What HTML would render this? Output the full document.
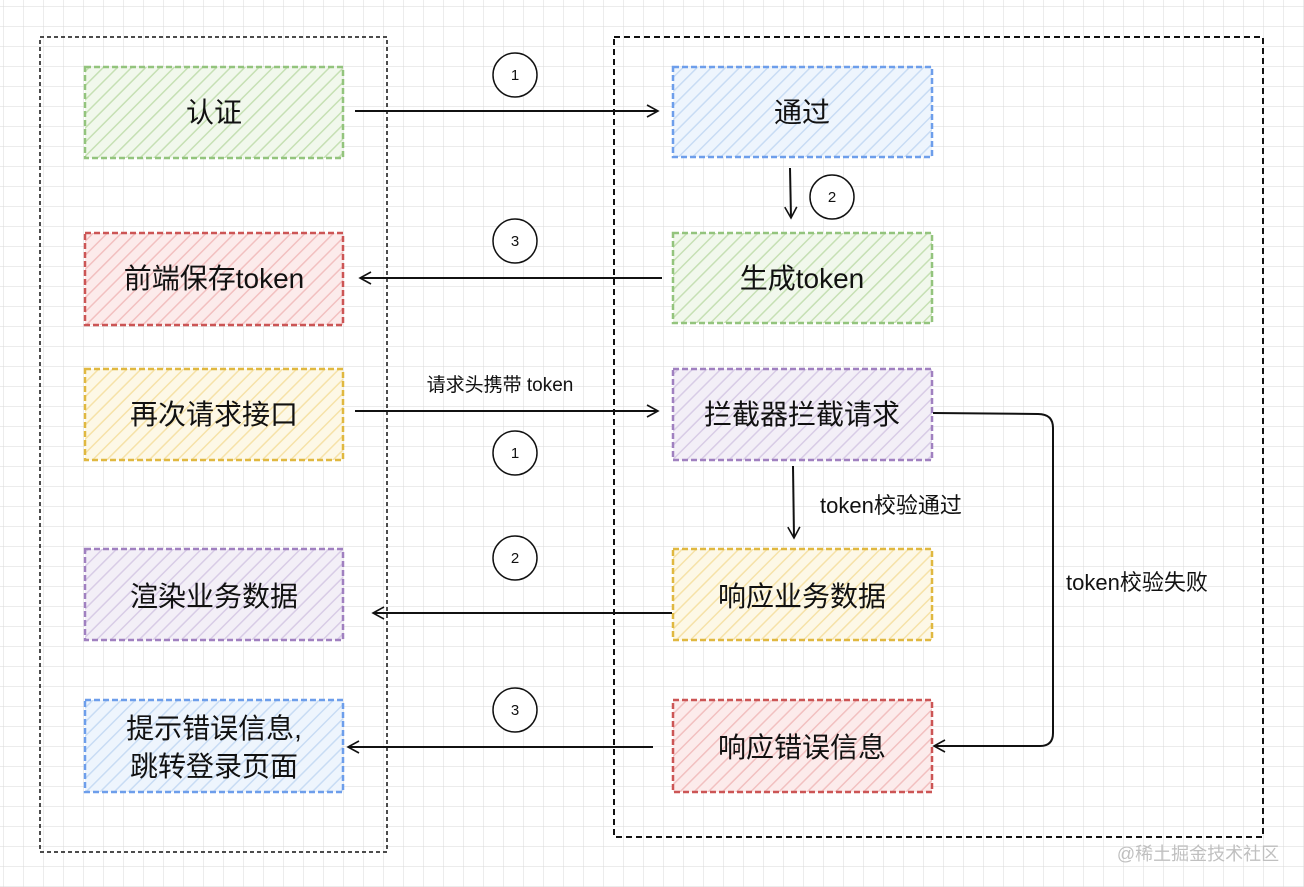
<!DOCTYPE html>
<html><head><meta charset="utf-8"><style>
body{margin:0;background:#fff}
svg{display:block}
text{font-family:"Liberation Sans","Noto Sans CJK SC",sans-serif;fill:#111}
</style></head><body>
<svg width="1304" height="887" viewBox="0 0 1304 887" xmlns="http://www.w3.org/2000/svg">
<defs>
<pattern id="grid" width="20" height="20" patternUnits="userSpaceOnUse" x="4" y="7">
<path d="M20 0V20M0 20H20" stroke="#d9d9d9" stroke-width="1" fill="none"/></pattern>
<pattern id="hg" width="10" height="10" patternUnits="userSpaceOnUse" patternTransform="rotate(45)"><rect width="10" height="10" fill="#f1f8ec"/><line x1="0" y1="0" x2="0" y2="10" stroke="#c6e0b4" stroke-width="3"/></pattern>
<pattern id="hb" width="10" height="10" patternUnits="userSpaceOnUse" patternTransform="rotate(45)"><rect width="10" height="10" fill="#eef5fd"/><line x1="0" y1="0" x2="0" y2="10" stroke="#c8dcf4" stroke-width="3"/></pattern>
<pattern id="hr" width="10" height="10" patternUnits="userSpaceOnUse" patternTransform="rotate(45)"><rect width="10" height="10" fill="#fcebeb"/><line x1="0" y1="0" x2="0" y2="10" stroke="#f2c0c0" stroke-width="3"/></pattern>
<pattern id="hy" width="10" height="10" patternUnits="userSpaceOnUse" patternTransform="rotate(45)"><rect width="10" height="10" fill="#fdf8e6"/><line x1="0" y1="0" x2="0" y2="10" stroke="#f6e2a8" stroke-width="3"/></pattern>
<pattern id="hp" width="10" height="10" patternUnits="userSpaceOnUse" patternTransform="rotate(45)"><rect width="10" height="10" fill="#f3eff7"/><line x1="0" y1="0" x2="0" y2="10" stroke="#d8cce6" stroke-width="3"/></pattern>
<marker id="ar" markerWidth="14" markerHeight="14" refX="12" refY="7" orient="auto" markerUnits="userSpaceOnUse"><path d="M1 1L12 7L1 13" fill="none" stroke="#111" stroke-width="1.6"/></marker>
</defs>
<rect width="1304" height="887" fill="url(#grid)"/>
<rect x="40" y="37" width="347" height="815" fill="none" stroke="#111" stroke-width="1.5" stroke-dasharray="4,3"/>
<rect x="614" y="37" width="649" height="800" fill="none" stroke="#111" stroke-width="2" stroke-dasharray="6,4"/>
<g stroke-width="2.5" stroke-dasharray="6,3">
<rect x="85" y="67" width="258" height="91" fill="url(#hg)" stroke="#93c47d"/>
<rect x="85" y="233" width="258" height="92" fill="url(#hr)" stroke="#cc5555"/>
<rect x="85" y="369" width="258" height="91" fill="url(#hy)" stroke="#e0b840"/>
<rect x="85" y="549" width="258" height="91" fill="url(#hp)" stroke="#a080c0"/>
<rect x="85" y="700" width="258" height="92" fill="url(#hb)" stroke="#6d9eeb"/>
<rect x="673" y="67" width="259" height="90" fill="url(#hb)" stroke="#6d9eeb"/>
<rect x="673" y="233" width="259" height="90" fill="url(#hg)" stroke="#93c47d"/>
<rect x="673" y="369" width="259" height="91" fill="url(#hp)" stroke="#a080c0"/>
<rect x="673" y="549" width="259" height="91" fill="url(#hy)" stroke="#e0b840"/>
<rect x="673" y="700" width="259" height="92" fill="url(#hr)" stroke="#cc5555"/>
</g>
<g font-size="28" text-anchor="middle">
<text x="214" y="122">认证</text>
<text x="214" y="288">前端保存token</text>
<text x="214" y="424">再次请求接口</text>
<text x="214" y="606">渲染业务数据</text>
<text x="214" y="738">提示错误信息,</text>
<text x="214" y="776">跳转登录页面</text>
<text x="802" y="122">通过</text>
<text x="802" y="288">生成token</text>
<text x="802" y="424">拦截器拦截请求</text>
<text x="802" y="606">响应业务数据</text>
<text x="802" y="757">响应错误信息</text>
</g>
<g stroke="#111" stroke-width="2" fill="none">
<path d="M355 111L658 111" marker-end="url(#ar)"/>
<path d="M790 168L791 218" marker-end="url(#ar)"/>
<path d="M662 278L360 278" marker-end="url(#ar)"/>
<path d="M355 411L658 411" marker-end="url(#ar)"/>
<path d="M793 466L794 538" marker-end="url(#ar)"/>
<path d="M672 613L373 613" marker-end="url(#ar)"/>
<path d="M653 747L348 747" marker-end="url(#ar)"/>
<path d="M933 413L1038 414Q1053 414 1053 428L1053 733Q1053 746 1040 746L934 746" marker-end="url(#ar)"/>
</g>
<g fill="#fff" stroke="#111" stroke-width="1.5">
<circle cx="515" cy="75" r="22"/><circle cx="832" cy="197" r="22"/><circle cx="515" cy="241" r="22"/>
<circle cx="515" cy="453" r="22"/><circle cx="515" cy="558" r="22"/><circle cx="515" cy="710" r="22"/>
</g>
<g font-size="15" text-anchor="middle">
<text x="515" y="80">1</text><text x="832" y="202">2</text><text x="515" y="246">3</text>
<text x="515" y="458">1</text><text x="515" y="563">2</text><text x="515" y="715">3</text>
</g>
<text x="500" y="391" font-size="19" text-anchor="middle">请求头携带 token</text>
<text x="820" y="513" font-size="22">token校验通过</text>
<text x="1066" y="590" font-size="22">token校验失败</text>
<text x="1198" y="860" font-size="18" style="fill:#c0c0c0" text-anchor="middle">@稀土掘金技术社区</text>
</svg>
</body></html>
